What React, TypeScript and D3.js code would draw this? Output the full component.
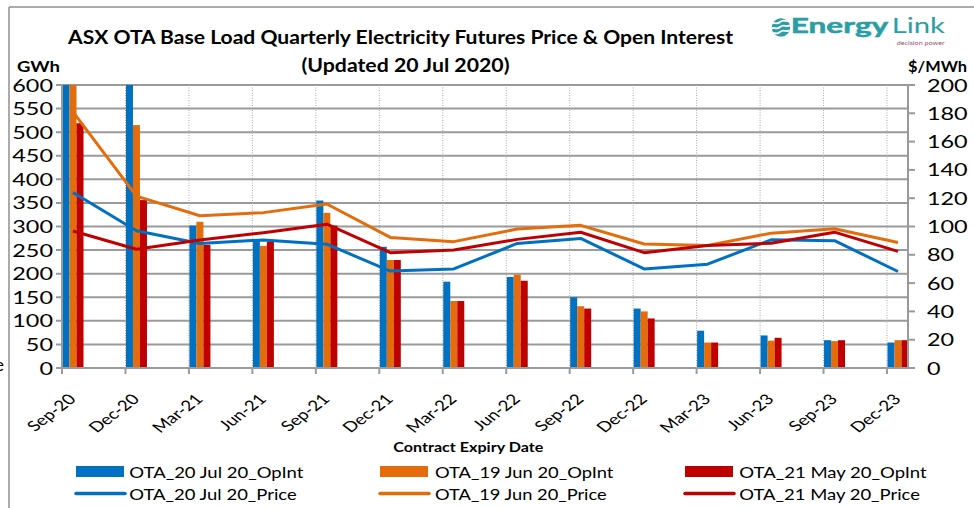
import React from "react";
import * as d3 from "d3";

const categories = ["Sep-20","Dec-20","Mar-21","Jun-21","Sep-21","Dec-21","Mar-22","Jun-22","Sep-22","Dec-22","Mar-23","Jun-23","Sep-23","Dec-23"];
const opIntJul20 = [640, 620, 302, 273, 355, 257, 183, 193, 150, 126, 79, 69, 59, 54];
const opIntJun19 = [610, 515, 310, 259, 329, 229, 142, 198, 131, 120, 54, 58, 57, 59];
const opIntMay21 = [519, 356, 261, 268, 302, 229, 142, 185, 126, 105, 54, 64, 59, 59];
const priceJul20 = [124, 97, 88, 90.5, 87.5, 68.5, 70, 88, 91.6, 70, 73.4, 90.6, 90, 68.2];
const priceJun19 = [181, 121.5, 107.6, 109.8, 115.9, 92.3, 89.3, 98.2, 100.8, 87.6, 86.6, 95.3, 98.4, 88.7];
const priceMay21 = [96.8, 83.9, 90.5, 95.6, 101.6, 81.5, 83.4, 90.9, 95.9, 81.5, 86.6, 88.2, 96, 82.4];
const leftTicks = [0, 50, 100, 150, 200, 250, 300, 350, 400, 450, 500, 550, 600];
const rightTicks = [0, 20, 40, 60, 80, 100, 120, 140, 160, 180, 200];
const barSeries = ["OTA_20 Jul 20_OpInt", "OTA_19 Jun 20_OpInt", "OTA_21 May 20_OpInt"];
const lineSeries = ["OTA_20 Jul 20_Price", "OTA_19 Jun 20_Price", "OTA_21 May 20_Price"];

const COLORS = ["#0070C0", "#E46C0A", "#C00000"];
const GRID = "#9a9a9a";
const TEAL = "#2a9ea5";
const FONT = "Lato, 'Open Sans', sans-serif";
const SX = 1.3;

export default function App() {
  const left = 62, right = 908, top = 85, bottom = 368;
  const x = d3.scalePoint<string>().domain(categories).range([62, 887]);
  const yL = d3.scaleLinear().domain([0, 600]).range([bottom, top]);
  const yR = d3.scaleLinear().domain([0, 200]).range([bottom, top]);
  const barW = 7;
  const bars = [opIntJul20, opIntJun19, opIntMay21];
  const prices = [priceJul20, priceJun19, priceMay21];
  const line = (vals: number[]) =>
    d3.line<number>().x((_, i) => (x(categories[i]) as number) + 11).y((v) => yR(v))(vals) as string;

  const legendX = [[76, 129.3], [380, 435], [685, 739.3]];
  const legendW = [[174, 167.4], [178.3, 171.7], [187.4, 180.7]];

  return (
    <svg width={974} height={508} style={{ position: "absolute", left: 0, top: 0, background: "#fff" }} fontFamily={FONT}>
      <defs>
        <clipPath id="plotclip">
          <rect x={left} y={top} width={right - left} height={bottom - top} />
        </clipPath>
        <clipPath id="logoclip">
          <circle cx={781} cy={27.5} r={9.2} />
        </clipPath>
      </defs>
      <rect x={0} y={0} width={974} height={508} fill="#fff" />
      {/* outer frame */}
      <line x1={9} x2={974} y1={7} y2={7} stroke="#8f8f8f" strokeWidth={1.5} />
      <line x1={9} x2={9} y1={7} y2={508} stroke="#8f8f8f" strokeWidth={1.5} />
      <text x={4} y={371} fontSize={18} textAnchor="end" fill="#000">e</text>

      {/* title */}
      <text x={400.5} y={44} textAnchor="middle" fontWeight="bold" fontSize={19} textLength={665} lengthAdjust="spacingAndGlyphs">ASX OTA Base Load Quarterly Electricity Futures Price &amp; Open Interest</text>
      <text x={405.5} y={72} textAnchor="middle" fontWeight="bold" fontSize={18} textLength={208} lengthAdjust="spacingAndGlyphs">(Updated 20 Jul 2020)</text>
      <text x={17} y={72} fontWeight="bold" fontSize={15} textLength={43} lengthAdjust="spacingAndGlyphs">GWh</text>
      <text x={908} y={72} fontWeight="bold" fontSize={15} textLength={59} lengthAdjust="spacingAndGlyphs">$/MWh</text>

      {/* logo */}
      <g>
        <circle cx={781} cy={27.5} r={9.2} fill={TEAL} />
        <g clipPath="url(#logoclip)">
          {[-5, 0, 5].map((d, i) => (
            <path key={i} d={`M${770},${30 + d} c3,-5 6,1 10,-3 c4,-4 7,2 12,-3`} fill="none" stroke="#fff" strokeWidth={1.8} strokeLinecap="round" />
          ))}
        </g>
        <text x={790.7} y={33.3} fontSize={21} fontWeight="bold" fill={TEAL} stroke={TEAL} strokeWidth={0.5} textLength={97.6} lengthAdjust="spacingAndGlyphs">Energy</text>
        <text x={891.7} y={33.3} fontSize={21} fill={TEAL} textLength={53.3} lengthAdjust="spacingAndGlyphs">Link</text>
        <text x={896.7} y={45} fontSize={6.5} fill="#a0506e" textLength={48} lengthAdjust="spacingAndGlyphs">decision power</text>
      </g>

      {/* horizontal gridlines */}
      {leftTicks.map((t) => (
        <line key={t} x1={left - 6} x2={right} y1={yL(t)} y2={yL(t)} stroke={GRID} strokeWidth={2} />
      ))}
      {/* vertical dotted gridlines */}
      {categories.slice(1).map((c) => (
        <line key={c} x1={x(c)} x2={x(c)} y1={top} y2={bottom} stroke="#a8a8a8" strokeWidth={1} strokeDasharray="1,1.5" />
      ))}

      {/* bars and price lines */}
      <g clipPath="url(#plotclip)">
        {bars.map((s, j) =>
          s.map((v, i) => (
            <rect key={`${j}-${i}`} x={(x(categories[i]) as number) + 0.5 + j * barW} y={yL(v)} width={barW} height={bottom - yL(v)} fill={COLORS[j]} />
          ))
        )}
        {prices.map((p, j) => (
          <path key={j} d={line(p)} fill="none" stroke={COLORS[j]} strokeWidth={3} strokeLinejoin="round" />
        ))}
      </g>

      {/* axes */}
      <line x1={left} x2={left} y1={top} y2={bottom} stroke={GRID} strokeWidth={2} />
      <line x1={right} x2={right} y1={top} y2={bottom} stroke={GRID} strokeWidth={2} />
      <line x1={left} x2={right} y1={bottom} y2={bottom} stroke={GRID} strokeWidth={2} />
      {categories.map((c) => (
        <line key={c} x1={x(c)} x2={x(c)} y1={bottom} y2={bottom + 6} stroke={GRID} strokeWidth={2} />
      ))}
      {rightTicks.map((t) => (
        <line key={t} x1={right} x2={right + 7} y1={yR(t)} y2={yR(t)} stroke={GRID} strokeWidth={2} />
      ))}

      {/* left tick labels */}
      {leftTicks.map((t) => (
        <text key={t} transform={`translate(53,${yL(t) + 6.5}) scale(${SX},1)`} textAnchor="end" fontSize={18}>{t}</text>
      ))}
      {/* right tick labels */}
      {rightTicks.map((t) => (
        <text key={t} transform={`translate(927,${yR(t) + 6.5}) scale(${SX},1)`} textAnchor="start" fontSize={18}>{t}</text>
      ))}
      {/* x tick labels */}
      {categories.map((c) => (
        <text key={c} transform={`translate(${(x(c) as number) + 15},400) scale(${SX},1) rotate(-45)`} textAnchor="end" fontSize={14.5}>{c}</text>
      ))}
      <text x={468.3} y={452} textAnchor="middle" fontWeight="bold" fontSize={14} textLength={150} lengthAdjust="spacingAndGlyphs">Contract Expiry Date</text>

      {/* legend */}
      {barSeries.map((s, j) => (
        <g key={s}>
          <rect x={legendX[j][0]} y={466} width={48} height={11} fill={COLORS[j]} />
          <text x={legendX[j][1]} y={478} fontSize={16} textLength={legendW[j][0]} lengthAdjust="spacingAndGlyphs">{s}</text>
        </g>
      ))}
      {lineSeries.map((s, j) => (
        <g key={s}>
          <line x1={legendX[j][0]} x2={legendX[j][0] + 49} y1={493.5} y2={493.5} stroke={COLORS[j]} strokeWidth={3.5} strokeLinecap="round" />
          <text x={legendX[j][1]} y={500} fontSize={16} textLength={legendW[j][1]} lengthAdjust="spacingAndGlyphs">{s}</text>
        </g>
      ))}
    </svg>
  );
}
